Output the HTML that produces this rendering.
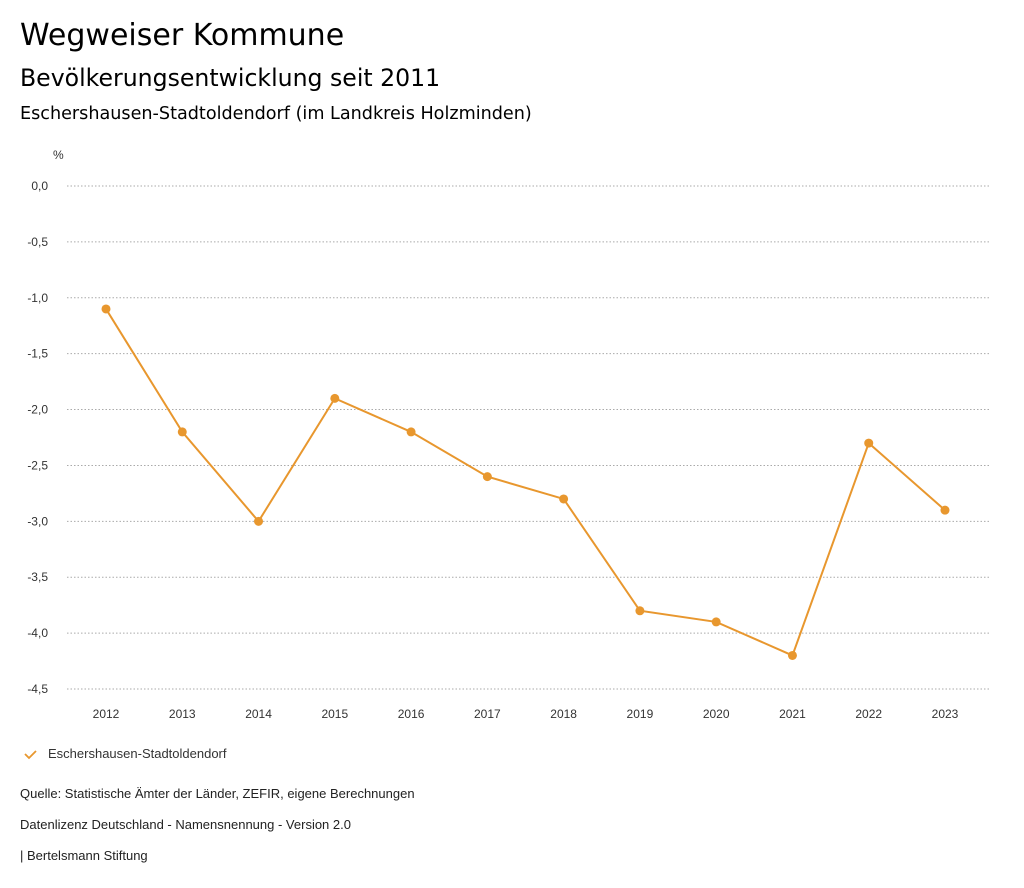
<!DOCTYPE html>
<html><head><meta charset="utf-8"><style>
body{margin:0;background:#fff;font-family:"Liberation Sans",sans-serif;color:#000;}
.t{position:absolute;left:20px;white-space:nowrap}
.h{font-family:"DejaVu Sans",sans-serif}
</style></head><body>
<div style="position:relative;width:1024px;height:888px;overflow:hidden">
<div class="t h" style="top:18px;font-size:30px">Wegweiser Kommune</div>
<div class="t h" style="top:64px;font-size:23.6px">Bevölkerungsentwicklung seit 2011</div>
<div class="t h" style="top:104px;font-size:17.6px">Eschershausen-Stadtoldendorf (im Landkreis Holzminden)</div>
<svg id="chart" width="1024" height="740" style="position:absolute;left:0;top:0" font-family="Liberation Sans, sans-serif"></svg>
<svg width="16" height="12" style="position:absolute;left:23px;top:749px"><polyline points="2,5 6,9 13,2" fill="none" stroke="#e8972e" stroke-width="1.8"/></svg>
<div class="t" style="top:746px;left:48px;font-size:13px;color:#333">Eschershausen-Stadtoldendorf</div>
<div class="t" style="top:786px;font-size:13px;color:#222">Quelle: Statistische Ämter der Länder, ZEFIR, eigene Berechnungen</div>
<div class="t" style="top:817px;font-size:13px;color:#222">Datenlizenz Deutschland - Namensnennung - Version 2.0</div>
<div class="t" style="top:848px;font-size:13px;color:#222">| Bertelsmann Stiftung</div>
</div>
<script>
const years=["2012","2013","2014","2015","2016","2017","2018","2019","2020","2021","2022","2023"];
const values=[-1.1,-2.2,-3.0,-1.9,-2.2,-2.6,-2.8,-3.8,-3.9,-4.2,-2.3,-2.9];
const yTicks=[0,-0.5,-1,-1.5,-2,-2.5,-3,-3.5,-4,-4.5];
const NS="http://www.w3.org/2000/svg";
const svg=document.getElementById('chart');
const y=v=>186+(v/-4.5)*(689-186);
const x=i=>106+i*(945-106)/(years.length-1);
function mk(t,a){const e=document.createElementNS(NS,t);for(const k in a)e.setAttribute(k,a[k]);svg.appendChild(e);return e;}
let u=mk('text',{x:53,y:159,'font-size':12,fill:'#333'});u.textContent='%';


yTicks.forEach(v=>{
 const l=mk('line',{x1:67,x2:990,y1:y(v),y2:y(v),stroke:'#aaa','stroke-dasharray':'1.5,2','stroke-width':1});
 
 
 const t=mk('text',{x:48,y:y(v)+4,'font-size':12,'text-anchor':'end',fill:'#333'});
 t.textContent=v.toFixed(1).replace('.',',');
 
 
});
years.forEach((yr,i)=>{
 const t=mk('text',{x:x(i),y:718,'font-size':12,'text-anchor':'middle',fill:'#333'});
 t.textContent=yr;
 
 
});
const p=mk('polyline',{points:values.map((v,i)=>x(i)+','+y(v)).join(' '),fill:'none',stroke:'#e8972e','stroke-width':2});


values.forEach((v,i)=>{
 const c=mk('circle',{cx:x(i),cy:y(v),r:4.5,fill:'#e8972e'});
 
 
});
</script>
</body></html>
